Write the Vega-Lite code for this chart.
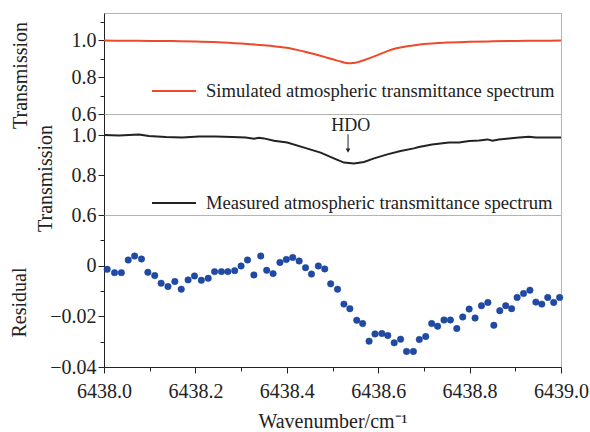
{
  "$schema": "https://vega.github.io/schema/vega-lite/v6.json",
  "padding": {"left": 9, "top": 12, "right": 28, "bottom": 2},
  "background": "white",
  "spacing": 0,
  "bounds": "flush",
  "config": {
    "font": "Liberation Serif",
    "view": {"stroke": "#b4b4b4", "strokeWidth": 1},
    "axis": {"grid": false, "domainColor": "#222", "tickColor": "#222", "labelColor": "#222", "titleColor": "#222", "labelFontSize": 20, "titleFontSize": 20, "titleFontWeight": "normal", "labelFont": "Liberation Serif", "titleFont": "Liberation Serif"},
    "legend": {"labelFont": "Liberation Serif", "labelFontSize": 18.6, "labelColor": "#222", "labelLimit": 600, "symbolType": "stroke", "symbolSize": 1936, "symbolStrokeWidth": 2, "labelOffset": 9, "padding": 0, "title": null}
  },
  "datasets": {
    "sim": [
      {"w": 6438.00, "t": 0.997}, {"w": 6438.05, "t": 0.996}, {"w": 6438.10, "t": 0.995}, {"w": 6438.15, "t": 0.994},
      {"w": 6438.20, "t": 0.992}, {"w": 6438.25, "t": 0.988}, {"w": 6438.30, "t": 0.981}, {"w": 6438.35, "t": 0.972},
      {"w": 6438.38, "t": 0.964}, {"w": 6438.40, "t": 0.958}, {"w": 6438.42, "t": 0.948}, {"w": 6438.44, "t": 0.937},
      {"w": 6438.46, "t": 0.924}, {"w": 6438.48, "t": 0.910}, {"w": 6438.50, "t": 0.896}, {"w": 6438.52, "t": 0.882},
      {"w": 6438.53, "t": 0.876}, {"w": 6438.54, "t": 0.875}, {"w": 6438.55, "t": 0.877}, {"w": 6438.56, "t": 0.884},
      {"w": 6438.58, "t": 0.901}, {"w": 6438.60, "t": 0.920}, {"w": 6438.62, "t": 0.940}, {"w": 6438.64, "t": 0.955},
      {"w": 6438.66, "t": 0.965}, {"w": 6438.68, "t": 0.972}, {"w": 6438.70, "t": 0.978}, {"w": 6438.75, "t": 0.986},
      {"w": 6438.80, "t": 0.990}, {"w": 6438.85, "t": 0.993}, {"w": 6438.90, "t": 0.995}, {"w": 6438.95, "t": 0.996},
      {"w": 6439.00, "t": 0.997}
    ],
    "meas": [
      {"w": 6438.000, "t": 1.000}, {"w": 6438.033, "t": 0.997}, {"w": 6438.077, "t": 1.002}, {"w": 6438.098, "t": 0.995},
      {"w": 6438.135, "t": 0.990}, {"w": 6438.171, "t": 0.987}, {"w": 6438.208, "t": 0.992}, {"w": 6438.244, "t": 0.993},
      {"w": 6438.280, "t": 0.990}, {"w": 6438.310, "t": 0.987}, {"w": 6438.328, "t": 0.981}, {"w": 6438.339, "t": 0.986},
      {"w": 6438.350, "t": 0.983}, {"w": 6438.372, "t": 0.971}, {"w": 6438.401, "t": 0.962}, {"w": 6438.438, "t": 0.937},
      {"w": 6438.474, "t": 0.912}, {"w": 6438.503, "t": 0.883}, {"w": 6438.525, "t": 0.862}, {"w": 6438.547, "t": 0.858},
      {"w": 6438.569, "t": 0.865}, {"w": 6438.591, "t": 0.883}, {"w": 6438.620, "t": 0.903}, {"w": 6438.649, "t": 0.920},
      {"w": 6438.678, "t": 0.933}, {"w": 6438.689, "t": 0.940}, {"w": 6438.718, "t": 0.953}, {"w": 6438.755, "t": 0.962},
      {"w": 6438.777, "t": 0.962}, {"w": 6438.799, "t": 0.970}, {"w": 6438.821, "t": 0.973}, {"w": 6438.839, "t": 0.978},
      {"w": 6438.850, "t": 0.971}, {"w": 6438.864, "t": 0.978}, {"w": 6438.886, "t": 0.982}, {"w": 6438.908, "t": 0.987},
      {"w": 6438.930, "t": 0.991}, {"w": 6438.945, "t": 0.987}, {"w": 6438.967, "t": 0.988}, {"w": 6439.000, "t": 0.987}
    ],
    "resid": [
      {"w": 6438.007, "r": -0.00145}, {"w": 6438.023, "r": -0.00275}, {"w": 6438.038, "r": -0.00275}, {"w": 6438.053, "r": 0.00224},
      {"w": 6438.067, "r": 0.0038}, {"w": 6438.082, "r": 0.00263}, {"w": 6438.096, "r": -0.00263}, {"w": 6438.111, "r": -0.00392},
      {"w": 6438.125, "r": -0.00694}, {"w": 6438.140, "r": -0.00824}, {"w": 6438.155, "r": -0.00627}, {"w": 6438.169, "r": -0.00929},
      {"w": 6438.184, "r": -0.00561}, {"w": 6438.198, "r": -0.00404}, {"w": 6438.213, "r": -0.00576}, {"w": 6438.228, "r": -0.00498},
      {"w": 6438.242, "r": -0.00235}, {"w": 6438.257, "r": -0.00235}, {"w": 6438.271, "r": -0.00235}, {"w": 6438.286, "r": -0.00196},
      {"w": 6438.300, "r": -0.00012}, {"w": 6438.314, "r": 0.00224}, {"w": 6438.328, "r": -0.00365}, {"w": 6438.343, "r": 0.0038},
      {"w": 6438.356, "r": -0.00184}, {"w": 6438.370, "r": -0.00314}, {"w": 6438.385, "r": 0.00129}, {"w": 6438.399, "r": 0.00247},
      {"w": 6438.413, "r": 0.00325}, {"w": 6438.427, "r": 0.00184}, {"w": 6438.441, "r": -0.00078}, {"w": 6438.454, "r": -0.00333},
      {"w": 6438.469, "r": -0.00012}, {"w": 6438.483, "r": -0.00129}, {"w": 6438.496, "r": -0.00718}, {"w": 6438.511, "r": -0.00929},
      {"w": 6438.525, "r": -0.01518}, {"w": 6438.538, "r": -0.01698}, {"w": 6438.553, "r": -0.02157}, {"w": 6438.566, "r": -0.02286},
      {"w": 6438.580, "r": -0.0298}, {"w": 6438.593, "r": -0.02694}, {"w": 6438.608, "r": -0.02678}, {"w": 6438.621, "r": -0.02757},
      {"w": 6438.635, "r": -0.03047}, {"w": 6438.649, "r": -0.02902}, {"w": 6438.662, "r": -0.03384}, {"w": 6438.677, "r": -0.03384},
      {"w": 6438.690, "r": -0.02914}, {"w": 6438.704, "r": -0.02796}, {"w": 6438.717, "r": -0.02286}, {"w": 6438.730, "r": -0.02392},
      {"w": 6438.744, "r": -0.02145}, {"w": 6438.758, "r": -0.02145}, {"w": 6438.772, "r": -0.02482}, {"w": 6438.785, "r": -0.02027},
      {"w": 6438.799, "r": -0.01714}, {"w": 6438.812, "r": -0.02067}, {"w": 6438.826, "r": -0.0158}, {"w": 6438.840, "r": -0.01451},
      {"w": 6438.853, "r": -0.02353}, {"w": 6438.866, "r": -0.01776}, {"w": 6438.879, "r": -0.0158}, {"w": 6438.892, "r": -0.01698},
      {"w": 6438.904, "r": -0.01255}, {"w": 6438.918, "r": -0.01098}, {"w": 6438.932, "r": -0.00969}, {"w": 6438.945, "r": -0.01439},
      {"w": 6438.958, "r": -0.01518}, {"w": 6438.971, "r": -0.01255}, {"w": 6438.984, "r": -0.01451}, {"w": 6438.997, "r": -0.01255}
    ],
    "note": [{"label": "HDO"}]
  },
  "vconcat": [
    {
      "width": 457, "height": 101,
      "data": {"name": "sim"},
      "mark": {"type": "line", "strokeWidth": 2, "interpolate": "monotone"},
      "encoding": {
        "x": {"field": "w", "type": "quantitative", "scale": {"domain": [6438, 6439], "nice": false, "zero": false}, "axis": null},
        "y": {"field": "t", "type": "quantitative", "scale": {"domain": [0.6, 1.146], "nice": false, "zero": false},
          "axis": {"title": "Transmission", "labelFont": "Liberation Serif", "values": [0.6, 0.7, 0.8, 0.9, 1.0, 1.1], "labelExpr": "round(datum.value*10) % 2 == 0 ? format(datum.value, '.1f') : ''", "tickSize": {"condition": {"test": "round(datum.value*10) % 2 == 0", "value": 6}, "value": 4}, "labelPadding": 2, "titlePadding": 41, "titleY": 62}},
        "color": {"datum": "Simulated atmospheric transmittance spectrum", "type": "nominal", "scale": {"range": ["#ee4a2a"]}, "legend": {"orient": "none", "legendX": 47, "legendY": 55}}
      }
    },
    {
      "width": 457, "height": 101,
      "layer": [
        {
          "data": {"name": "meas"},
          "mark": {"type": "line", "strokeWidth": 2},
          "encoding": {
            "x": {"field": "w", "type": "quantitative", "scale": {"domain": [6438, 6439], "nice": false, "zero": false}, "axis": null},
            "y": {"field": "t", "type": "quantitative", "scale": {"domain": [0.6, 1.105], "nice": false, "zero": false},
              "axis": {"title": "Transmission", "labelFont": "Liberation Serif", "values": [0.6, 0.7, 0.8, 0.9, 1.0], "labelExpr": "round(datum.value*10) % 2 == 0 ? format(datum.value, '.1f') : ''", "tickSize": {"condition": {"test": "round(datum.value*10) % 2 == 0", "value": 6}, "value": 4}, "labelPadding": 2, "titlePadding": 16, "titleY": 64}},
            "color": {"datum": "Measured atmospheric transmittance spectrum", "type": "nominal", "scale": {"range": ["#222222"]}, "legend": {"orient": "none", "legendX": 47, "legendY": 66}}
          }
        },
        {
          "data": {"name": "note"},
          "mark": {"type": "text", "fontSize": 18, "font": "Liberation Serif", "color": "#222"},
          "encoding": {
            "x": {"datum": 6438.54, "type": "quantitative"},
            "y": {"datum": 1.045, "type": "quantitative"},
            "text": {"field": "label"}
          }
        },
        {
          "data": {"name": "note"},
          "mark": {"type": "rule", "color": "#222", "strokeWidth": 1},
          "encoding": {
            "x": {"datum": 6438.534, "type": "quantitative"},
            "y": {"datum": 1.004, "type": "quantitative"},
            "y2": {"datum": 0.925}
          }
        },
        {
          "data": {"name": "note"},
          "mark": {"type": "point", "shape": "triangle-down", "filled": true, "color": "#222", "size": 22, "opacity": 1},
          "encoding": {
            "x": {"datum": 6438.534, "type": "quantitative"},
            "y": {"datum": 0.922, "type": "quantitative"}
          }
        }
      ]
    },
    {
      "width": 457, "height": 152,
      "data": {"name": "resid"},
      "mark": {"type": "point", "filled": true, "size": 42, "color": "#1f4aa8", "opacity": 1, "stroke": "#173c8c", "strokeWidth": 0.5},
      "encoding": {
        "x": {"field": "w", "type": "quantitative", "scale": {"domain": [6438, 6439], "nice": false, "zero": false},
          "axis": {"title": "Wavenumber/cm⁻¹", "labelFont": "Liberation Serif", "values": [6438.0, 6438.1, 6438.2, 6438.3, 6438.4, 6438.5, 6438.6, 6438.7, 6438.8, 6438.9, 6439.0], "labelExpr": "round(datum.value*10) % 2 == 0 ? format(datum.value, '.1f') : ''", "tickSize": {"condition": {"test": "round(datum.value*10) % 2 == 0", "value": 6}, "value": 4}, "labelPadding": 8, "titlePadding": 10, "labelFlush": false}},
        "y": {"field": "r", "type": "quantitative", "scale": {"domain": [-0.04, 0.02], "nice": false, "zero": false},
          "axis": {"title": "Residual", "labelFont": "Liberation Serif", "values": [-0.04, -0.03, -0.02, -0.01, 0, 0.01], "labelExpr": "round(datum.value*100) % 2 == 0 ? (datum.value == 0 ? '0' : format(datum.value, '.2f')) : ''", "tickSize": {"condition": {"test": "round(datum.value*100) % 2 == 0", "value": 6}, "value": 4}, "labelPadding": 2, "titlePadding": 20, "titleY": 87}}
      }
    }
  ],
  "resolve": {"scale": {"color": "independent", "y": "independent"}, "legend": {"color": "independent"}}
}
